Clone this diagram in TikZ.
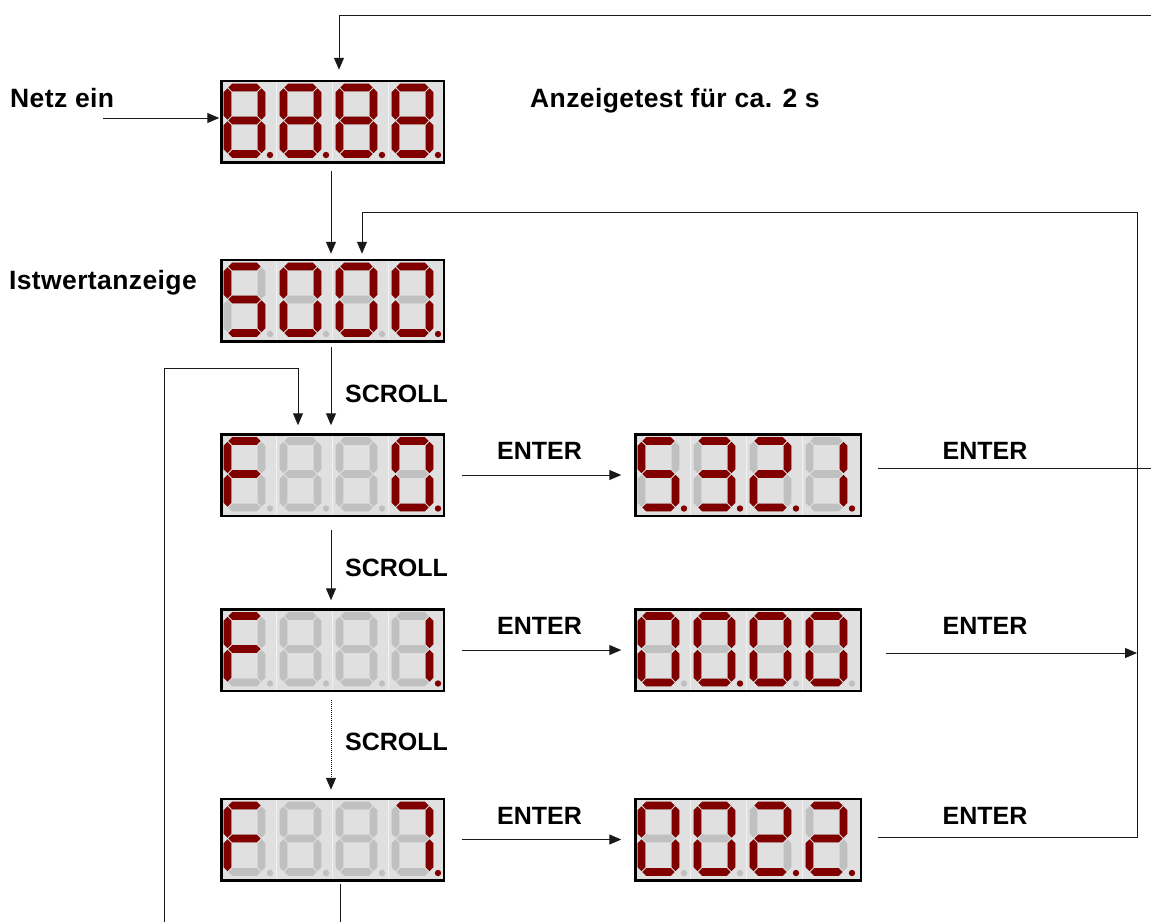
\documentclass[tikz,border=0pt]{standalone}
\usepackage{fontspec}
\setmainfont{Liberation Sans}
\usepackage{tikz}
\usetikzlibrary{arrows.meta,positioning,calc}

\definecolor{segon}{HTML}{800000}
\definecolor{segoff}{HTML}{C0C0C0}
\definecolor{cellbg}{HTML}{E0E0E0}
\definecolor{sepcol}{HTML}{F2F2F2}

% geometry of one digit (pt, measured from the outer top left corner)
\newcommand{\sgxl}{7.5}
\newcommand{\sgxr}{41.5}
\newcommand{\sgya}{8}
\newcommand{\sgyg}{41}
\newcommand{\sgyd}{74.5}
\newcommand{\sgxp}{50}
\newcommand{\sgyp}{75.5}
\newcommand{\sgh}{3.9}
\newcommand{\sgg}{0.9}
\newcommand{\sgpitch}{56}
\newcommand{\sgsep}{56.5}

\newcommand{\hseg}[4]{\fill[#4] (#1+\sgg,#3) -- (#1+\sgg+\sgh,#3-\sgh) -- (#2-\sgg-\sgh,#3-\sgh) -- (#2-\sgg,#3) -- (#2-\sgg-\sgh,#3+\sgh) -- (#1+\sgg+\sgh,#3+\sgh) -- cycle;}
\newcommand{\vseg}[4]{\fill[#4] (#1,#2+\sgg) -- (#1+\sgh,#2+\sgg+\sgh) -- (#1+\sgh,#3-\sgg-\sgh) -- (#1,#3-\sgg) -- (#1-\sgh,#3-\sgg-\sgh) -- (#1-\sgh,#2+\sgg+\sgh) -- cycle;}

\newcommand{\sega}[1]{\hseg{\sgxl}{\sgxr}{\sgya}{#1}}
\newcommand{\segb}[1]{\vseg{\sgxr}{\sgya}{\sgyg}{#1}}
\newcommand{\segc}[1]{\vseg{\sgxr}{\sgyg}{\sgyd}{#1}}
\newcommand{\segd}[1]{\hseg{\sgxl}{\sgxr}{\sgyd}{#1}}
\newcommand{\sege}[1]{\vseg{\sgxl}{\sgyg}{\sgyd}{#1}}
\newcommand{\segf}[1]{\vseg{\sgxl}{\sgya}{\sgyg}{#1}}
\newcommand{\segg}[1]{\hseg{\sgxl}{\sgxr}{\sgyg}{#1}}
\newcommand{\segx}[1]{}

% one digit: lit segments, decimal point (1/0)
\newcommand{\sevdigit}[2]{%
  \foreach \s in {a,b,c,d,e,f,g} {\csname seg\s\endcsname{segoff}}
  \foreach \s in #1 {\csname seg\s\endcsname{segon}}
  \ifnum#2=1 \fill[segon] (\sgxp,\sgyp) circle[radius=3.2];%
  \else \fill[segoff] (\sgxp,\sgyp) circle[radius=3.2];\fi}

% four digits into a display node
\newcommand{\sevdisp}[2]{%
  \begin{scope}[shift={($(#1.north west)+(-1.25,-1.25)$)}]
    \foreach \k in {0,1,2} \draw[sepcol, line width=1pt] (\sgsep+\k*\sgpitch,2.5) -- (\sgsep+\k*\sgpitch,81.5);
    \foreach \lit/\dpon [count=\i from 0] in {#2} {
      \begin{scope}[xshift=\i*\sgpitch]
        \sevdigit{\lit}{\dpon}
      \end{scope}}
  \end{scope}}

\tikzset{
  disp/.style={rectangle, draw=black, line width=2.5pt, fill=cellbg,
    minimum height=81.5pt, inner sep=0pt, outer sep=0pt},
  dispL/.style={disp, minimum width=222.5pt},
  dispR/.style={disp, minimum width=225.5pt},
  lbl/.style={font=\bfseries\fontsize{25}{30}\selectfont, inner sep=0pt},
  lblw/.style={lbl, font=\bfseries\fontsize{26.5}{30}\selectfont\addfontfeature{LetterSpace=1.5}},
  tr/.style={-{Triangle[length=12pt,width=10pt]}, draw=black!90, line width=1pt},
  ln/.style={draw=black!90, line width=1pt},
}

\begin{document}
\begin{tikzpicture}[x=1pt, y=-1pt]
  \useasboundingbox (0,0) rectangle (1151,922);

  % displays
  \node[dispL] (d1) at (332.5,121.5) {};
  \node[dispL, below=97.5pt of d1] (d2) {};
  \node[dispL, below=93pt of d2] (d3) {};
  \node[dispL, below=93.5pt of d3] (d5) {};
  \node[dispL, below=108pt of d5] (d7) {};
  \node[dispR, right=191.5pt of d3] (d4) {};
  \node[dispR, right=191.5pt of d5] (d6) {};
  \node[dispR, right=191.5pt of d7] (d8) {};

  \sevdisp{d1}{{a,b,c,d,e,f,g}/1, {a,b,c,d,e,f,g}/1, {a,b,c,d,e,f,g}/1, {a,b,c,d,e,f,g}/1}
  \sevdisp{d2}{{a,f,g,c,d}/0, {a,b,c,d,e,f}/0, {a,b,c,d,e,f}/0, {a,b,c,d,e,f}/1}
  \sevdisp{d3}{{a,f,g,e}/0, {x}/0, {x}/0, {a,b,c,d,e,f}/1}
  \sevdisp{d4}{{a,f,g,c,d}/1, {a,b,g,c,d}/1, {a,b,g,e,d}/1, {b,c}/1}
  \sevdisp{d5}{{a,f,g,e}/0, {x}/0, {x}/0, {b,c}/1}
  \sevdisp{d6}{{a,b,c,d,e,f}/0, {a,b,c,d,e,f}/1, {a,b,c,d,e,f}/0, {a,b,c,d,e,f}/0}
  \sevdisp{d7}{{a,f,g,e}/0, {x}/0, {x}/0, {a,b,c}/1}
  \sevdisp{d8}{{a,b,c,d,e,f}/0, {a,b,c,d,e,f}/0, {a,b,g,e,d}/1, {a,b,g,e,d}/1}

  % texts
  \node[lblw, anchor=base west] (netz) at (10,107) {Netz ein};
  \node[lblw, anchor=base west] (test) at (530,107) {Anzeigetest für ca. 2 s};
  \node[lblw, anchor=base east] (ist) at (197,289) {Istwertanzeige};
  \node[lbl, anchor=base] (en4) at (985,459) {ENTER};
  \node[lbl, anchor=base] (en6) at (985,634) {ENTER};
  \node[lbl, anchor=base] (en8) at (985,824) {ENTER};

  % free ends
  \coordinate (netzin) at (103,118);
  \coordinate (topR) at (1151,15);
  \coordinate (rbus) at (1137,212);
  \coordinate (exitR) at (1151,468);
  \coordinate (lbot) at (164,922);
  \coordinate (dbot) at (340,922);
  \coordinate (lcorner) at ($(d3.north)+(-34.5,-66)$);
  \coordinate (m6) at ($(d6.east)+(25,3)$);
  \coordinate (e8) at ($(d8.east)+(17,-2.5)$);

  % connectors
  \draw[tr, shorten >=2pt] (netzin) -- (netzin -| d1.west);
  \draw[tr, shorten >=11pt] (topR) -| ([xshift=6.5pt]d1.north);
  \draw[tr, shorten <=9pt, shorten >=6pt] ([xshift=-1.5pt]d1.south) -- ([xshift=-1.5pt]d2.north);
  \draw[tr, shorten <=6pt, shorten >=9pt] ([xshift=-1.5pt]d2.south) -- ([xshift=-1.5pt]d3.north);
  \draw[tr, shorten <=14pt, shorten >=9pt] ([xshift=-1.5pt]d3.south) -- ([xshift=-1.5pt]d5.north);
  \draw[tr, densely dotted, shorten <=9pt, shorten >=9pt] ([xshift=-1.5pt]d5.south) -- ([xshift=-1.5pt]d7.north);
  \node[lbl, anchor=base west] (scr1) at (345,402) {SCROLL};
  \node[lbl, anchor=base west] (scr2) at (345,576) {SCROLL};
  \node[lbl, anchor=base west] (scr3) at (345,750) {SCROLL};

  \draw[tr, shorten <=18pt, shorten >=14pt] (d3.east) -- node[lbl, midway, above=15pt] (en3) {ENTER} (d4.west);
  \draw[tr, shorten <=18pt, shorten >=14pt] (d5.east) -- node[lbl, midway, above=15pt] (en5) {ENTER} (d6.west);
  \draw[tr, shorten <=18pt, shorten >=14pt] (d7.east) -- node[lbl, midway, above=15pt] (en7) {ENTER} (d8.west);

  \draw[ln] ($(d4.east |- exitR)+(17,0)$) -- (exitR);
  \draw[tr] (m6) -- (m6 -| rbus);
  \draw[tr, shorten >=6pt] (e8) -- (e8 -| rbus) -- (rbus) -| ([xshift=29.5pt]d2.north);
  \draw[tr, shorten >=9pt] (lbot) |- (lcorner) -- (lcorner |- d3.north);
  \draw[ln, shorten <=4pt] (d7.south -| dbot) -- (dbot);
\end{tikzpicture}
\end{document}
